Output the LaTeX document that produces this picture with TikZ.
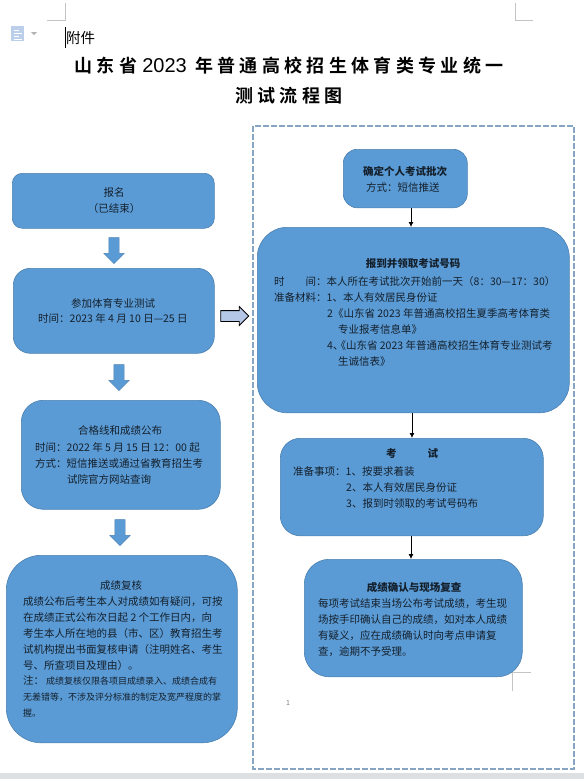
\documentclass[tikz,border=0pt]{standalone}
\usepackage{fontspec}
\usetikzlibrary{shapes.arrows,arrows.meta}
\setmainfont{Noto Sans CJK SC}
\newfontfamily\titlefont[LetterSpace=24,BoldFont={Noto Sans CJK SC Bold}]{Noto Sans CJK SC}
\newfontfamily\digitfont{Liberation Sans}
\definecolor{boxfill}{HTML}{5B9BD5}
\definecolor{boxline}{HTML}{4A7FAE}
\definecolor{inkc}{HTML}{14202C}
\definecolor{dashc}{HTML}{86A5C4}
\definecolor{markc}{HTML}{C4C4C4}
\definecolor{iconc}{HTML}{BCCFEA}
\definecolor{bandc}{HTML}{DDDFE1}
\definecolor{pointc}{HTML}{B4C7E7}
\newcommand{\bodysize}{\fontsize{10.5}{16}\selectfont}
\newcommand{\notesize}{\fontsize{9}{16}\selectfont}
\tikzset{
  x=1pt,y=-1pt,
  flowbox/.style={draw=boxline,line width=.6pt,fill=boxfill,inner sep=0pt,anchor=north west},
  blockdown/.style={shape=single arrow,draw=boxline,line width=.4pt,fill=boxfill,inner sep=5pt,
    minimum width=20pt,minimum height=26pt,single arrow head extend=5pt,single arrow head indent=0pt,rotate=-90},
  blockright/.style={shape=single arrow,draw=black,line width=.8pt,fill=pointc,inner sep=5pt,
    minimum width=18pt,minimum height=28pt,single arrow head extend=4pt,single arrow head indent=0pt},
  thin arrow/.style={draw=black,line width=.8pt,-{Latex[length=5pt,width=5pt]}},
  linesleft/.style={anchor=north west,inner sep=0pt,align=left,font=\bodysize,text=inkc},
  linecenter/.style={anchor=center,inner sep=0pt,align=center,font=\bodysize,text=inkc},
  cropmark/.style={draw=markc,line width=.6pt},
  titleline/.style={anchor=center,inner sep=0pt,font=\titlefont\bfseries\fontsize{18}{22}\selectfont,text=black},
}
\begin{document}
\begin{tikzpicture}
\useasboundingbox (0,0) rectangle (584,779);
% window band and page marks
\fill[bandc] (0,773) rectangle (584,779);
\draw[cropmark] (47,20) -- (65,20) -- (65,3);
\draw[cropmark] (533,20) -- (515,20) -- (515,3);
\draw[cropmark] (531,672) -- (512,672) -- (512,691);
% document icon
\fill[iconc] (11,26) rectangle (24,41);
\draw[white,line width=1pt] (14,30) -- (19,30) (14,33) -- (22,33) (14,36) -- (19,36) (14,39) -- (22,39);
\fill[gray!60] (31,32) -- (37,32) -- (34,35) -- cycle;
\draw[black,line width=1pt] (65,27) -- (65,48);
\node[anchor=west,inner sep=0pt,font=\fontsize{14.5}{16}\selectfont,text=black] (attach) at (66,38) {附件};
% title
\node[titleline] (title1) at (289,66) {山东省\hspace{5pt}{\digitfont\mdseries\fontsize{20}{22}\selectfont 2023} 年普通高校招生体育类专业统一};
\node[titleline] (title2) at (289,96) {测试流程图};
% dashed frame
\draw[dashc,line width=2.2pt,dash pattern=on 6pt off 2pt] (253,126) rectangle (574,769);
% left column
\node[flowbox,rounded corners=10pt,minimum width=202pt,minimum height=55pt] (signup) at (12,173) {};
\node[flowbox,rounded corners=17pt,minimum width=201pt,minimum height=85pt] (test) at (13,268) {};
\node[flowbox,rounded corners=22pt,minimum width=199pt,minimum height=109pt] (score) at (21,400) {};
\node[flowbox,rounded corners=35pt,minimum width=231pt,minimum height=187.5pt] (review) at (6,555) {};
% right column
\node[flowbox,rounded corners=14pt,minimum width=124pt,minimum height=58.5pt] (batch) at (343,149) {};
\node[flowbox,rounded corners=30pt,minimum width=312pt,minimum height=185.5pt] (report) at (257,227) {};
\node[flowbox,rounded corners=20pt,minimum width=263pt,minimum height=97.5pt] (exam) at (280,438) {};
\node[flowbox,rounded corners=25pt,minimum width=218pt,minimum height=117.5pt] (confirm) at (304,559) {};
% block arrows
\node[blockdown] (a1) at (114,248) {};
\node[blockdown] (a2) at (119,375) {};
\node[blockdown] (a3) at (120,530) {};
\node[blockright] (a4) at (232,316) {};
% thin arrows
\coordinate (xa) at (411,0);
\coordinate (xb) at (412,0);
\draw[thin arrow] (batch.south -| xa) -- (report.north -| xa);
\draw[thin arrow] (report.south -| xb) -- (exam.north -| xb);
\draw[thin arrow] (exam.south -| xa) -- (confirm.north -| xa);
% left texts
\node[linecenter] (t1) at (114,201) {报名\\（已结束）};
\node[linecenter] (t2a) at (113,303) {参加体育专业测试};
\node[linesleft] (t2b) at (38,313) {时间：2023 年 4 月 10 日—25 日};
\node[linecenter] (t3a) at (120,431) {合格线和成绩公布};
\node[linesleft] (t3b) at (35,442) {时间：2022 年 5 月 15 日 12：00 起\\方式：短信推送或通过省教育招生考\\\hspace*{32pt}试院官方网站查询};
\node[linecenter] (t4a) at (121,586) {成绩复核};
\node[linesleft] (t4b) at (23,596) {成绩公布后考生本人对成绩如有疑问，可按\\在成绩正式公布次日起 2 个工作日内，向\\考生本人所在地的县（市、区）教育招生考\\试机构提出书面复核申请（注明姓名、考生\\号、所查项目及理由）。};
\node[linesleft,font=\notesize] (t4c) at (23,675) {{\bodysize 注：}\hspace{2pt}成绩复核仅限各项目成绩录入、成绩合成有\\无差错等，不涉及评分标准的制定及宽严程度的掌\\握。};
% right texts
\node[linecenter,font=\bodysize\bfseries] (t5a) at (405,171) {确定个人考试批次};
\node[linesleft] (t5b) at (366,182) {方式：短信推送};
\node[linecenter,font=\bodysize\bfseries] (t6a) at (413,264) {报到并领取考试号码};
\node[linesleft] (t6b) at (274,276) {时\hspace{21pt}间：本人所在考试批次开始前一天（8：30—17：30）\\准备材料：1、本人有效居民身份证\\\hspace*{53pt}2《山东省 2023 年普通高校招生夏季高考体育类\\\hspace*{64pt}专业报考信息单》\\\hspace*{53pt}4、\hspace{-8pt}《山东省 2023 年普通高校招生体育专业测试考\\\hspace*{64pt}生诚信表》};
\node[linecenter,font=\bodysize\bfseries] (t7a) at (412,454) {考\hspace{31pt}试};
\node[linesleft] (t7b) at (293,466) {准备事项：1、按要求着装\\\hspace*{53pt}2、本人有效居民身份证\\\hspace*{53pt}3、报到时领取的考试号码布};
\node[linecenter,font=\bodysize\bfseries] (t8a) at (414,587) {成绩确认与现场复查};
\node[linesleft] (t8b) at (318,598) {每项考试结束当场公布考试成绩，考生现\\场按手印确认自己的成绩，如对本人成绩\\有疑义，应在成绩确认时向考点申请复\\查，逾期不予受理。};
\node[inner sep=0pt,font=\fontsize{7}{8}\selectfont,text=gray] (pageno) at (288,703) {1};
\end{tikzpicture}
\end{document}
